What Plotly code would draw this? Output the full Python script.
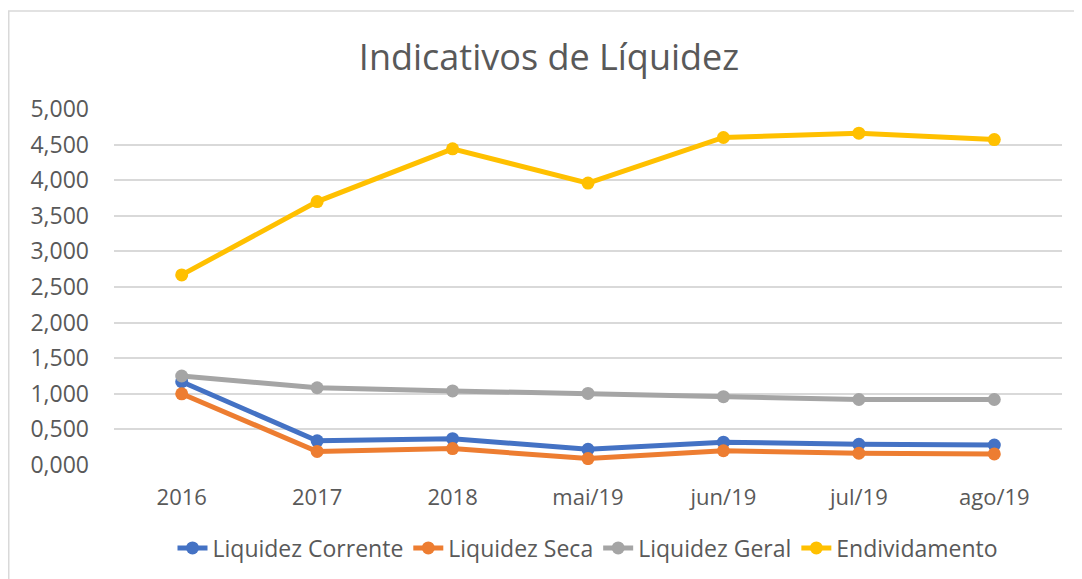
import plotly.graph_objects as go

categories = ["2016", "2017", "2018", "mai/19", "jun/19", "jul/19", "ago/19"]
liquidez_corrente = [1.17, 0.34, 0.37, 0.22, 0.32, 0.29, 0.28]
liquidez_seca = [1.00, 0.19, 0.23, 0.09, 0.20, 0.165, 0.155]
liquidez_geral = [1.25, 1.085, 1.04, 1.005, 0.96, 0.92, 0.92]
endividamento = [2.67, 3.70, 4.44, 3.96, 4.60, 4.66, 4.57]
tick_vals = [0, 0.5, 1, 1.5, 2, 2.5, 3, 3.5, 4, 4.5, 5]
tick_text = ["0,000", "0,500", "1,000", "1,500", "2,000", "2,500",
             "3,000", "3,500", "4,000", "4,500", "5,000"]

series = [
    ("Liquidez Corrente", liquidez_corrente, "#4472C4"),
    ("Liquidez Seca", liquidez_seca, "#ED7D31"),
    ("Liquidez Geral", liquidez_geral, "#A5A5A5"),
    ("Endividamento", endividamento, "#FFC000"),
]

FONT = "Open Sans"
L, R, T, B = 106, 28, 101, 122
W, H = 1082, 579
PW, PH = W - L - R, H - T - B

fig = go.Figure()
for name, vals, color in series:
    fig.add_trace(go.Scatter(
        x=categories, y=vals, name=name, mode="lines+markers",
        line=dict(color=color, width=5),
        marker=dict(color=color, size=13),
    ))

fig.update_layout(
    width=W, height=H,
    margin=dict(l=L, r=R, t=T, b=B),
    paper_bgcolor="white", plot_bgcolor="white",
    font=dict(family=FONT, color="#595959", size=22),
    title=dict(text="Indicativos de Líquidez", x=0.5, xanchor="center",
               y=1 - 49 / H, yanchor="middle",
               font=dict(family=FONT, size=36, color="#595959")),
    showlegend=True,
    legend=dict(orientation="h", x=0.5, xanchor="center",
                y=-(540 - (H - B)) / PH, yanchor="middle",
                font=dict(family=FONT, size=23, color="#595959"),
                tracegroupgap=0, traceorder="normal"),
    xaxis=dict(range=[-0.5, 6.5], showgrid=False, showline=False, zeroline=False,
               ticks="", tickfont=dict(family=FONT, size=22, color="#595959"),
               ticklabelstandoff=17, fixedrange=True),
    yaxis=dict(range=[0, 5], tickvals=tick_vals, ticktext=tick_text,
               showgrid=True, gridcolor="#D9D9D9", gridwidth=1.5,
               zeroline=False, showline=False, ticks="",
               tickfont=dict(family=FONT, size=23, color="#595959"),
               ticklabelstandoff=24),
    shapes=[dict(type="rect", xref="paper", yref="paper",
                 x0=-(L - 0.75) / PW, x1=1.2, y0=-0.6, y1=1 + (T - 3) / PH,
                 line=dict(color="#D9D9D9", width=1.5), layer="below")],
)

fig.write_html("out.html")
